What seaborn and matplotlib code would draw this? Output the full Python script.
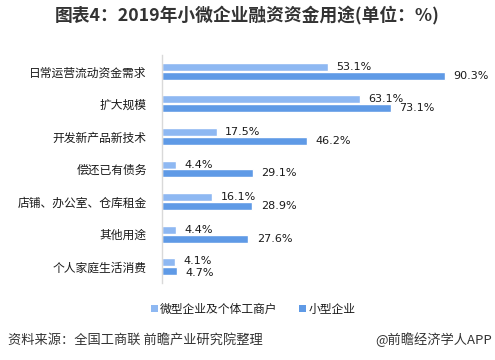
import matplotlib
matplotlib.use("Agg")
import matplotlib.pyplot as plt
import seaborn as sns
import pandas as pd
from matplotlib.patches import Patch

categories = ["日常运营流动资金需求", "扩大规模", "开发新产品新技术", "偿还已有债务",
              "店铺、办公室、仓库租金", "其他用途", "个人家庭生活消费"]
series_names = ["微型企业及个体工商户", "小型企业"]
micro = [53.1, 63.1, 17.5, 4.4, 16.1, 4.4, 4.1]
small = [90.3, 73.1, 46.2, 29.1, 28.9, 27.6, 4.7]
colors = ["#8EB8F2", "#5F9AE6"]

df = pd.DataFrame({
    "cat": categories * 2,
    "series": [series_names[0]] * len(categories) + [series_names[1]] * len(categories),
    "val": micro + small,
})

sns.set_theme(style="white")
plt.rcParams["font.family"] = ["Noto Sans CJK SC", "DejaVu Sans"]

W, H = 495, 360
fig = plt.figure(figsize=(W / 100, H / 100), dpi=100)
ax = fig.add_axes([162 / W, 1 - 283 / H, 313 / W, 228 / H])

sns.barplot(data=df, y="cat", x="val", hue="series", order=categories,
            hue_order=series_names, palette=colors, orient="h",
            width=0.55, gap=0.11, saturation=1, legend=False, ax=ax)

ax.set_xlim(0, 100)
ax.set_ylim(6.5, -0.5)
ax.set_xlabel("")
ax.set_ylabel("")
ax.set_xticks([])
for s in ["top", "right", "bottom"]:
    ax.spines[s].set_visible(False)
ax.spines["left"].set_color("#D9D9D9")
ax.spines["left"].set_linewidth(1)
ax.tick_params(axis="y", length=0, pad=11, labelsize=8.5, labelcolor="#1a1a1a")

for i, cont in enumerate(ax.containers):
    anns = ax.bar_label(cont, labels=[f"{v:.1f}%" for v in cont.datavalues],
                        padding=6, fontsize=8, color="#1a1a1a", family="DejaVu Sans")
    # nudge the tightly packed last pair apart slightly
    last = anns[-1]
    last.xyann = (6, 1.0 if i == 0 else -1.0)

fig.text(0.5, 1 - 15 / H, "图表4：2019年小微企业融资资金用途(单位：%)",
         ha="center", va="center", fontsize=12.8, fontweight="bold", color="#333333")

handles = [Patch(facecolor=c, edgecolor="none") for c in colors]
fig.legend(handles, series_names, loc="center", bbox_to_anchor=(253 / W, 1 - 309 / H),
           ncol=2, frameon=False, fontsize=8.5, handlelength=0.6, handleheight=0.6,
           handletextpad=0.2, columnspacing=1.8, labelcolor="#1a1a1a")

fig.text(8 / W, 1 - 340 / H, "资料来源：全国工商联 前瞻产业研究院整理",
         ha="left", va="center", fontsize=9.5, color="#333333")
fig.text(492 / W, 1 - 340 / H, "@前瞻经济学人APP",
         ha="right", va="center", fontsize=9.5, color="#333333")

fig.savefig("out.png", dpi=100)
